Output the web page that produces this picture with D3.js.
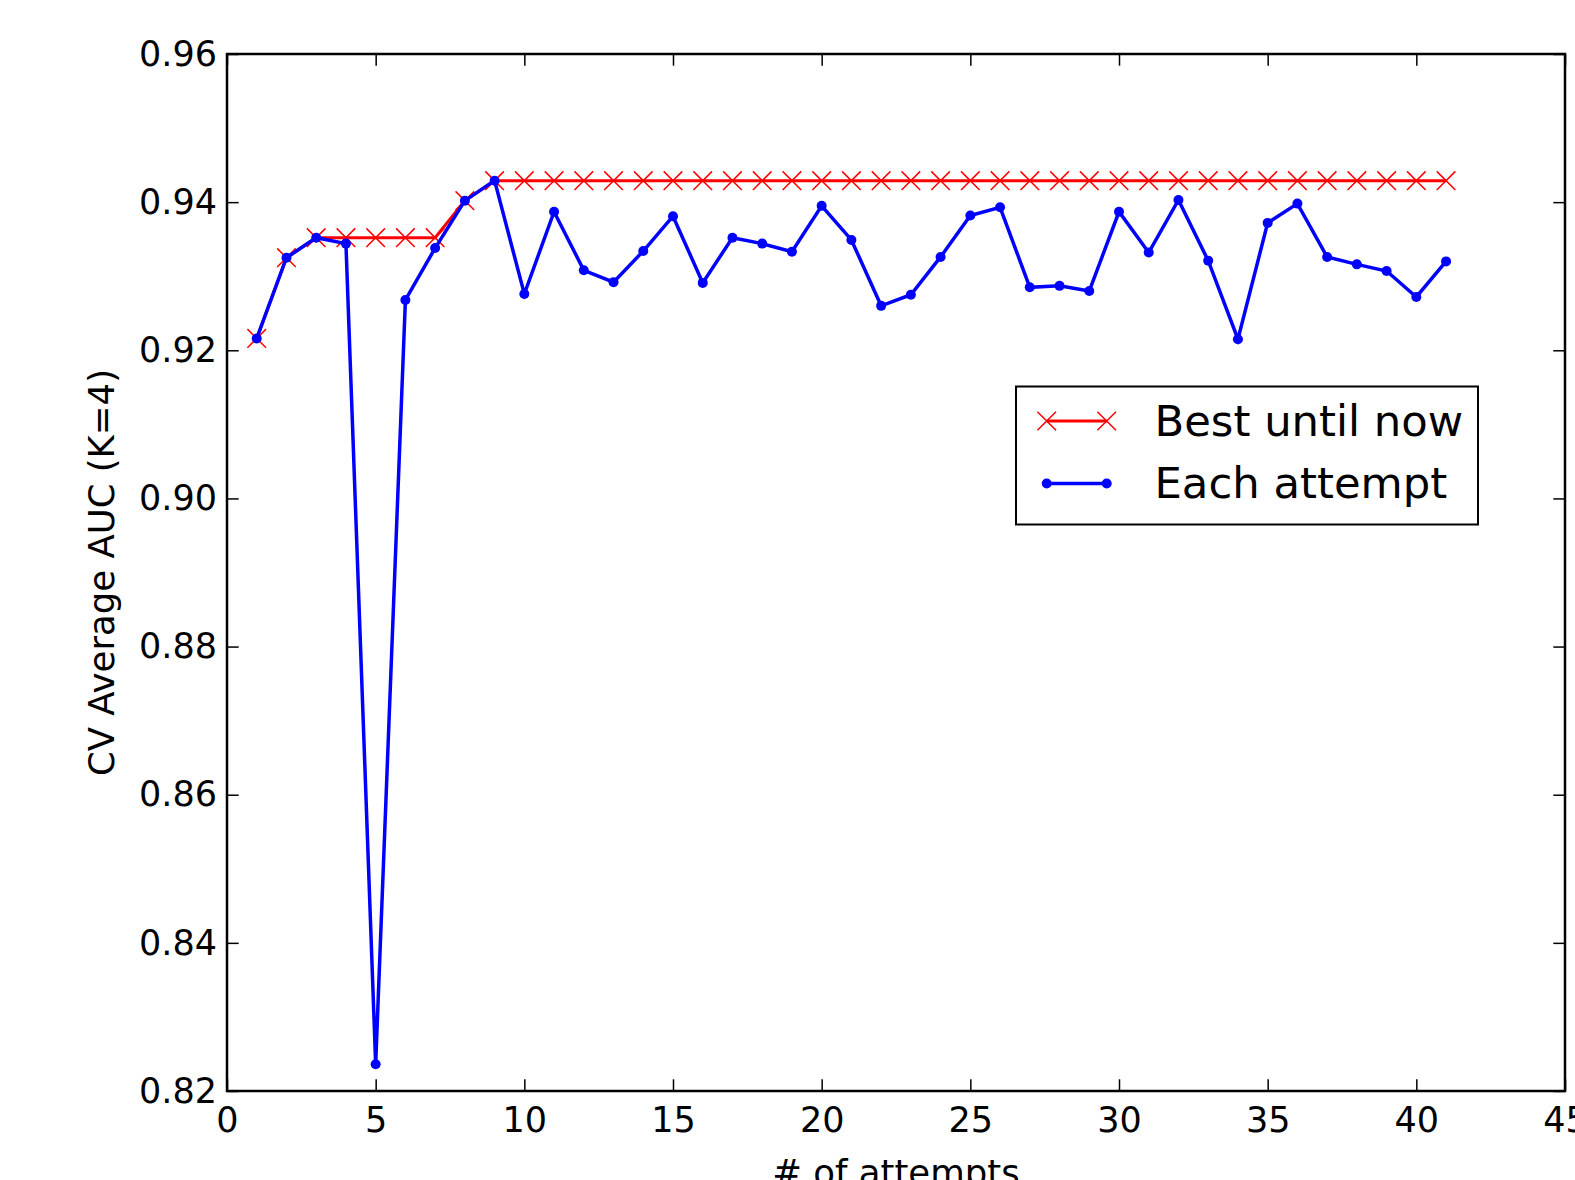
<!DOCTYPE html>
<html>
<head>
<meta charset="utf-8">
<script src="https://cdn.jsdelivr.net/npm/d3@7"></script>
<style>
  html, body { margin: 0; padding: 0; background: #fff; }
  svg { display: block; font-family: "DejaVu Sans", sans-serif; }
</style>
</head>
<body>
<div id="chart"></div>
<script>
var attempts = [1, 2, 3, 4, 5, 6, 7, 8, 9, 10,
	11, 12, 13, 14, 15, 16, 17, 18, 19, 20,
	21, 22, 23, 24, 25, 26, 27, 28, 29, 30,
	31, 32, 33, 34, 35, 36, 37, 38, 39, 40, 41];

// AUC of each attempt (blue)
var eachAttempt = [0.9216, 0.9325, 0.9352, 0.9344, 0.8236, 0.9268, 0.9338, 0.9402, 0.9429, 0.9276,
	0.9387, 0.9308, 0.9292, 0.9334, 0.9381, 0.9291, 0.9352, 0.9344, 0.9333, 0.9395,
	0.9349, 0.9260, 0.9275, 0.9326, 0.9382, 0.9393, 0.9285, 0.9287, 0.9280, 0.9387,
	0.9332, 0.9403, 0.9321, 0.9215, 0.9372, 0.9398, 0.9326, 0.9316, 0.9307, 0.9272, 0.9320];

// best AUC so far (red)
var bestUntilNow = [0.9216, 0.9325, 0.9352, 0.9352, 0.9352, 0.9352, 0.9352, 0.9402, 0.9429, 0.9429,
	0.9429, 0.9429, 0.9429, 0.9429, 0.9429, 0.9429, 0.9429, 0.9429, 0.9429, 0.9429,
	0.9429, 0.9429, 0.9429, 0.9429, 0.9429, 0.9429, 0.9429, 0.9429, 0.9429, 0.9429,
	0.9429, 0.9429, 0.9429, 0.9429, 0.9429, 0.9429, 0.9429, 0.9429, 0.9429, 0.9429, 0.9429];

var xTicks = [0, 5, 10, 15, 20, 25, 30, 35, 40, 45];
var yTicks = [0.82, 0.84, 0.86, 0.88, 0.90, 0.92, 0.94, 0.96];
var seriesNames = ["Best until now", "Each attempt"];

var width = 1575, height = 1180;
var margin = {top: 54, right: 10, bottom: 89, left: 227};
var innerW = width - margin.left - margin.right,
	innerH = height - margin.top - margin.bottom;

var svg = d3.select("#chart").append("svg")
	.attr("width", width)
	.attr("height", height);

var g = svg.append("g")
	.attr("transform", "translate(" + margin.left + "," + margin.top + ")");

var x = d3.scaleLinear().domain([0, 45]).range([0, innerW]);
var y = d3.scaleLinear().domain([0.82, 0.96]).range([innerH, 0]);

var tickLen = 11.7;

// ticks on all four sides, pointing in
g.append("g")
	.attr("transform", "translate(0," + innerH + ")")
	.call(d3.axisBottom(x).tickValues(xTicks).tickSizeInner(-tickLen).tickSizeOuter(0).tickPadding(16))
	.call(function(a){ a.select(".domain").remove(); });
g.append("g")
	.call(d3.axisTop(x).tickValues(xTicks).tickSizeInner(-tickLen).tickSizeOuter(0).tickFormat(""))
	.call(function(a){ a.select(".domain").remove(); });
g.append("g")
	.call(d3.axisLeft(y).tickValues(yTicks).tickSizeInner(-tickLen).tickSizeOuter(0).tickPadding(10).tickFormat(d3.format(".2f")))
	.call(function(a){ a.select(".domain").remove(); });
g.append("g")
	.attr("transform", "translate(" + innerW + ",0)")
	.call(d3.axisRight(y).tickValues(yTicks).tickSizeInner(-tickLen).tickSizeOuter(0).tickFormat(""))
	.call(function(a){ a.select(".domain").remove(); });

g.selectAll(".tick line").attr("stroke", "#000").attr("stroke-width", 1.5);
g.selectAll(".tick text")
	.attr("font-family", "DejaVu Sans")
	.attr("font-size", 35)
	.attr("fill", "#000");

// lines
var line = d3.line()
	.x(function(d, i){ return x(attempts[i]); })
	.y(function(d){ return y(d); });

g.append("path")
	.datum(bestUntilNow)
	.attr("fill", "none")
	.attr("stroke", "#ff0000")
	.attr("stroke-width", 3)
	.attr("d", line);

var xr = 9.3;
g.selectAll(".xmark")
	.data(bestUntilNow)
	.enter().append("path")
	.attr("class", "xmark")
	.attr("fill", "none")
	.attr("stroke", "#ff0000")
	.attr("stroke-width", 1.5)
	.attr("d", function(d, i){
		var cx = x(attempts[i]), cy = y(d);
		return "M" + (cx - xr) + "," + (cy - xr) + "L" + (cx + xr) + "," + (cy + xr) +
			"M" + (cx - xr) + "," + (cy + xr) + "L" + (cx + xr) + "," + (cy - xr);
	});

g.append("path")
	.datum(eachAttempt)
	.attr("fill", "none")
	.attr("stroke", "#0000ff")
	.attr("stroke-width", 3.5)
	.attr("d", line);

g.selectAll(".dot")
	.data(eachAttempt)
	.enter().append("circle")
	.attr("class", "dot")
	.attr("fill", "#0000ff")
	.attr("cx", function(d, i){ return x(attempts[i]); })
	.attr("cy", function(d){ return y(d); })
	.attr("r", 5);

// frame
g.append("rect")
	.attr("width", innerW)
	.attr("height", innerH)
	.attr("fill", "none")
	.attr("stroke", "#000")
	.attr("stroke-width", 2.5);

// axis titles
svg.append("text")
	.attr("x", margin.left + innerW / 2)
	.attr("y", 1185)
	.attr("text-anchor", "middle")
	.attr("font-size", 35.5)
	.text("# of attempts");

svg.append("text")
	.attr("transform", "translate(113.5," + (margin.top + innerH / 2) + ") rotate(-90)")
	.attr("text-anchor", "middle")
	.attr("font-size", 35.5)
	.text("CV Average AUC (K=4)");

// legend
var legend = svg.append("g");
legend.append("rect")
	.attr("x", 1016)
	.attr("y", 386.5)
	.attr("width", 462)
	.attr("height", 138)
	.attr("fill", "#fff")
	.attr("stroke", "#000")
	.attr("stroke-width", 2);

var legY = [421, 483.5];
legend.append("line")
	.attr("x1", 1046.7).attr("x2", 1106.7)
	.attr("y1", legY[0]).attr("y2", legY[0])
	.attr("stroke", "#ff0000").attr("stroke-width", 3);
[1046.7, 1106.7].forEach(function(cx){
	legend.append("path")
		.attr("fill", "none")
		.attr("stroke", "#ff0000")
		.attr("stroke-width", 1.5)
		.attr("d", "M" + (cx - xr) + "," + (legY[0] - xr) + "L" + (cx + xr) + "," + (legY[0] + xr) +
			"M" + (cx - xr) + "," + (legY[0] + xr) + "L" + (cx + xr) + "," + (legY[0] - xr));
});
legend.append("line")
	.attr("x1", 1046.7).attr("x2", 1106.7)
	.attr("y1", legY[1]).attr("y2", legY[1])
	.attr("stroke", "#0000ff").attr("stroke-width", 3.5);
[1046.7, 1106.7].forEach(function(cx){
	legend.append("circle")
		.attr("cx", cx).attr("cy", legY[1]).attr("r", 5)
		.attr("fill", "#0000ff");
});

legend.selectAll(".legtext")
	.data(seriesNames)
	.enter().append("text")
	.attr("class", "legtext")
	.attr("x", 1154.5)
	.attr("y", function(d, i){ return [435.7, 498.3][i]; })
	.attr("font-size", 43.3)
	.text(function(d){ return d; });
</script>
</body>
</html>
